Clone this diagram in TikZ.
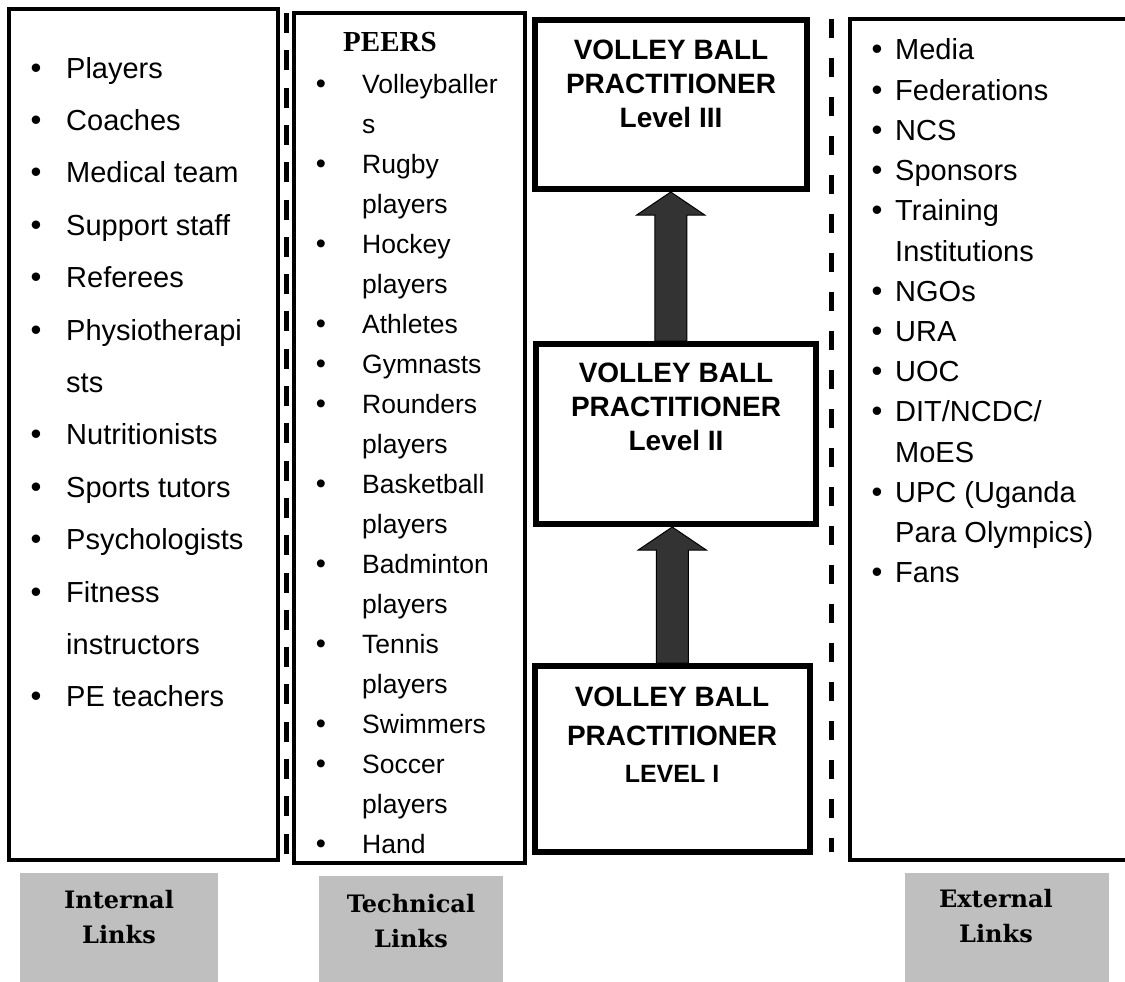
\documentclass[tikz,border=0pt]{standalone}
\usepackage{fontspec}
\setmainfont{Liberation Sans}
\newfontfamily\peersfont{Liberation Serif}
\newfontfamily\labelfont{DejaVu Serif}
\usetikzlibrary{fit,calc}
\definecolor{labelgrey}{HTML}{BFBFBF}
\definecolor{arrowgrey}{HTML}{333333}

\begin{document}
\begin{tikzpicture}[x=1pt,y=-1pt,
  frame/.style={draw=black, fill=white, inner sep=0pt, outer sep=0pt},
  listframe/.style={frame, line width=4pt},
  levelframe/.style={frame, line width=6pt},
  bigitem/.style={anchor=base west, inner sep=0pt, font=\fontsize{29}{29}\selectfont},
  bigdot/.style={anchor=base, inner sep=0pt, font=\fontsize{31}{31}\selectfont},
  peeritem/.style={anchor=base west, inner sep=0pt, font=\fontsize{26.5}{26.5}\selectfont},
  peerdot/.style={anchor=base, inner sep=0pt, font=\fontsize{29}{29}\selectfont},
  leveltext/.style={anchor=base, inner sep=0pt, font=\bfseries\fontsize{28}{28}\selectfont},
  levelsmall/.style={anchor=base, inner sep=0pt, font=\bfseries\fontsize{25}{25}\selectfont},
  tag/.style={fill=labelgrey, inner sep=0pt, outer sep=0pt},
  tagtext/.style={anchor=base, inner sep=0pt, font=\labelfont\bfseries\fontsize{24}{24}\selectfont},
  riser/.style={fill=arrowgrey, draw=black, line width=1pt},
  divider/.style={line width=5pt}
]
\useasboundingbox (0,0) rectangle (1125,982);
\clip (0,0) rectangle (1125,982);

% column frames
\node[listframe, fit={(8.7,9.5) (278,860)}] (internal) {};
\node[listframe, fit={(293.5,13) (525,863)}] (peers) {};
\node[listframe, fit={(850,19) (1140,860)}] (external) {};

% level frames
\node[levelframe, fit={(534.5,20) (807,189)}] (l3) {};
\node[levelframe, fit={(536,344) (816,524)}] (l2) {};
\node[levelframe, fit={(534.5,666) (810,852)}] (l1) {};

% dashed dividers
\coordinate (divL-top) at (286,13);
\coordinate (divL-bot) at (286,855);
\coordinate (divR-top) at (831,19);
\coordinate (divR-bot) at (831,852);
\draw[divider, dash pattern=on 20pt off 17.3pt] (divL-top) -- (divL-bot);
\draw[divider, dash pattern=on 19pt off 20pt] (divR-top) -- (divR-bot);

% progression arrows
\draw[riser] let \p1=(l1.north), \p2=(l2.south) in
  (\x1-16pt,\y1+3pt) -- (\x1-16pt,\y2-26pt) -- (\x1-34pt,\y2-26pt) -- (\x1,\y2-3pt)
  -- (\x1+34pt,\y2-26pt) -- (\x1+16pt,\y2-26pt) -- (\x1+16pt,\y1+3pt) -- cycle;
\draw[riser] let \p1=(l2.north), \p2=(l3.south) in
  (\x2-16pt,\y1+3pt) -- (\x2-16pt,\y2-26pt) -- (\x2-34pt,\y2-26pt) -- (\x2,\y2-3pt)
  -- (\x2+34pt,\y2-26pt) -- (\x2+16pt,\y2-26pt) -- (\x2+16pt,\y1+3pt) -- cycle;

% level captions
\node[leveltext] (l3a) at (671,60) {VOLLEY BALL};
\node[leveltext] (l3b) at (671,93.5) {PRACTITIONER};
\node[leveltext] (l3c) at (671,127) {Level III};
\node[leveltext] (l2a) at (676,382) {VOLLEY BALL};
\node[leveltext] (l2b) at (676,416) {PRACTITIONER};
\node[leveltext] (l2c) at (676,450) {Level II};
\node[leveltext] (l1a) at (672,706) {VOLLEY BALL};
\node[leveltext] (l1b) at (672,745) {PRACTITIONER};
\node[levelsmall] (l1c) at (672,782) {LEVEL I};

% internal list
\foreach \t/\b [count=\i from 0] in {Players/1, Coaches/1, Medical team/1,
    Support staff/1, Referees/1, Physiotherapi/1, sts/0, Nutritionists/1,
    Sports tutors/1, Psychologists/1, Fitness/1, instructors/0, PE teachers/1} {
  \node[bigitem] (int-\i) at (66,{78+52.4*\i}) {\t};
  \ifnum\b=1 \node[bigdot] (intdot-\i) at (36,{78+52.4*\i}) {\textbullet};\fi
}

% peers list
\node[anchor=base west, inner sep=0pt, font=\peersfont\bfseries\fontsize{29}{29}\selectfont]
  (peerhead) at (343,52) {PEERS};
\foreach \t/\b [count=\i from 0] in {Volleyballer/1, s/0, Rugby/1, players/0,
    Hockey/1, players/0, Athletes/1, Gymnasts/1, Rounders/1, players/0,
    Basketball/1, players/0, Badminton/1, players/0, Tennis/1, players/0,
    Swimmers/1, Soccer/1, players/0, Hand/1} {
  \node[peeritem] (peer-\i) at (362,{93+40*\i}) {\t};
  \ifnum\b=1 \node[peerdot] (peerdot-\i) at (321,{93+40*\i}) {\textbullet};\fi
}

% external list
\foreach \t/\b [count=\i from 0] in {Media/1, Federations/1, NCS/1, Sponsors/1,
    Training/1, Institutions/0, NGOs/1, URA/1, UOC/1, {DIT/NCDC/}/1, MoES/0,
    UPC (Uganda/1, Para Olympics)/0, Fans/1} {
  \node[bigitem] (ext-\i) at (895,{60+40.2*\i}) {\t};
  \ifnum\b=1 \node[bigdot] (extdot-\i) at (877,{60+40.2*\i}) {\textbullet};\fi
}

% grey captions
\node[tag, fit={(20,873) (218,990)}] (taginternal) {};
\node[tag, fit={(319,876) (503,990)}] (tagtechnical) {};
\node[tag, fit={(905,873) (1109,990)}] (tagexternal) {};
\node[tagtext] (taginternal-a) at (119,908) {Internal};
\node[tagtext] (taginternal-b) at (119,943) {Links};
\node[tagtext] (tagtechnical-a) at (411,912) {Technical};
\node[tagtext] (tagtechnical-b) at (411,947) {Links};
\node[tagtext] (tagexternal-a) at (996,907) {External};
\node[tagtext] (tagexternal-b) at (996,942) {Links};
\end{tikzpicture}
\end{document}
